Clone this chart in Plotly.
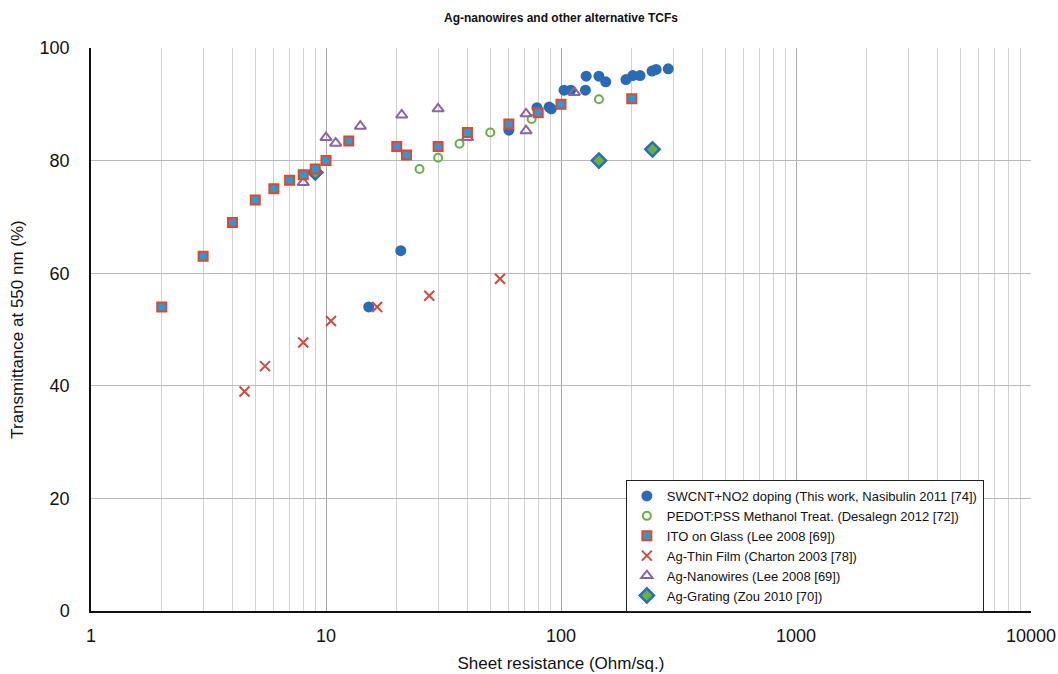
import plotly.graph_objects as go

# Sheet resistance (Ohm/sq.) and transmittance at 550 nm (%) for each material
swcnt_r = [15.2, 20.8, 60, 79, 89, 91, 103, 110, 127, 128, 145, 155, 189, 202, 217, 244, 254, 286]
swcnt_t = [54.0, 64.0, 85.4, 89.4, 89.5, 89.2, 92.5, 92.5, 92.5, 95.0, 95.0, 94.0, 94.4, 95.1, 95.1, 95.9, 96.2, 96.3]

pedot_r = [9, 25, 30, 37, 50, 75, 145]
pedot_t = [78.0, 78.5, 80.5, 83.0, 85.0, 87.4, 90.9]

ito_r = [2, 3, 4, 5, 6, 7, 8, 9, 10, 12.5, 20, 22, 30, 40, 60, 80, 100, 200]
ito_t = [54.0, 63.0, 69.0, 73.0, 75.0, 76.5, 77.5, 78.5, 80.0, 83.5, 82.5, 81.0, 82.5, 85.0, 86.5, 88.5, 90.0, 91.0]

agfilm_r = [4.5, 5.5, 8, 10.5, 16.5, 27.5, 55]
agfilm_t = [39.0, 43.5, 47.7, 51.5, 54.0, 56.0, 59.0]

agnw_r = [8, 10, 11, 14, 21, 30, 40, 71, 71, 114]
agnw_t = [76.1, 84.1, 83.1, 86.1, 88.1, 89.2, 84.1, 88.3, 85.3, 92.1]

aggrating_r = [9, 145, 245]
aggrating_t = [77.9, 80.0, 82.0]

x_ticks = [1, 10, 100, 1000, 10000]
x_tick_text = ["1", "10", "100", "1000", "10000"]
y_ticks = [0, 20, 40, 60, 80, 100]

FONT = "Liberation Sans, Arial, Helvetica, sans-serif"

fig = go.Figure()

# drawing order (later traces on top); legend order set by legendrank
fig.add_trace(go.Scatter(
    x=pedot_r, y=pedot_t, mode="markers", legendrank=2,
    name="PEDOT:PSS Methanol Treat. (Desalegn 2012 [72])",
    marker=dict(symbol="circle-open", size=8, color="#6aae4a", line=dict(width=2, color="#6aae4a")),
))
fig.add_trace(go.Scatter(
    x=swcnt_r, y=swcnt_t, mode="markers", legendrank=1,
    name="SWCNT+NO2 doping (This work, Nasibulin 2011 [74])",
    marker=dict(symbol="circle", size=11, color="#2a6bb5", line=dict(width=0)),
))
fig.add_trace(go.Scatter(
    x=aggrating_r, y=aggrating_t, mode="markers", legendrank=6,
    name="Ag-Grating (Zou 2010 [70])",
    marker=dict(symbol="diamond", size=11, color="#68b13c", line=dict(width=2.5, color="#2b6cc0")),
))
fig.add_trace(go.Scatter(
    x=agnw_r, y=agnw_t, mode="markers", legendrank=5,
    name="Ag-Nanowires (Lee 2008 [69])",
    marker=dict(symbol="triangle-up-open", size=10, color="#8b64a6", line=dict(width=2, color="#8b64a6")),
))
fig.add_trace(go.Scatter(
    x=agfilm_r, y=agfilm_t, mode="markers", legendrank=4,
    name="Ag-Thin Film (Charton 2003 [78])",
    marker=dict(symbol="x-thin-open", size=10, color="#d5483f", line=dict(width=2, color="#d5483f")),
))
fig.add_trace(go.Scatter(
    x=ito_r, y=ito_t, mode="markers", legendrank=3,
    name="ITO on Glass (Lee 2008 [69])",
    marker=dict(symbol="square", size=9, color="#2f98cf", line=dict(width=2, color="#e2472d")),
))

fig.update_layout(
    width=1058, height=674,
    margin=dict(l=91, r=27, t=48, b=63, autoexpand=False),
    paper_bgcolor="white", plot_bgcolor="white",
    font=dict(family=FONT, color="#111111"),
    title=dict(
        text="<b>Ag-nanowires and other alternative TCFs</b>",
        font=dict(size=12, color="#111111"),
        x=0.5, xref="paper", xanchor="center",
        y=1 - 18 / 674, yref="container", yanchor="middle",
    ),
    legend=dict(
        x=0.569, y=0.2327, xanchor="left", yanchor="top",
        bgcolor="white", bordercolor="#222222", borderwidth=1,
        font=dict(size=13, color="#111111"),
        entrywidth=362, entrywidthmode="pixels",
        itemclick=False,
    ),
    xaxis=dict(
        type="log", range=[0, 4], automargin=False,
        tickvals=x_ticks, ticktext=x_tick_text,
        ticks="", ticklabelstandoff=8,
        tickfont=dict(size=18, color="#111111"),
        showgrid=True, gridcolor="#a9a9a9", gridwidth=1,
        minor=dict(dtick="D1", showgrid=True, gridcolor="#d2d2d2", gridwidth=1, ticks=""),
        showline=True, linecolor="#111111", linewidth=1.5,
        mirror=False, zeroline=False,
        title=dict(text="Sheet resistance (Ohm/sq.)", font=dict(size=17, color="#111111"), standoff=12),
    ),
    yaxis=dict(
        range=[0, 100], tickvals=y_ticks, automargin=False,
        ticks="", ticklabelstandoff=16,
        tickfont=dict(size=18, color="#111111"),
        showgrid=True, gridcolor="#b8b8b8", gridwidth=1,
        showline=True, linecolor="#111111", linewidth=1.5,
        zeroline=False,
        title=dict(text="Transmittance at 550 nm (%)", font=dict(size=17, color="#111111"), standoff=12),
    ),
)

fig.write_html("out.html")
